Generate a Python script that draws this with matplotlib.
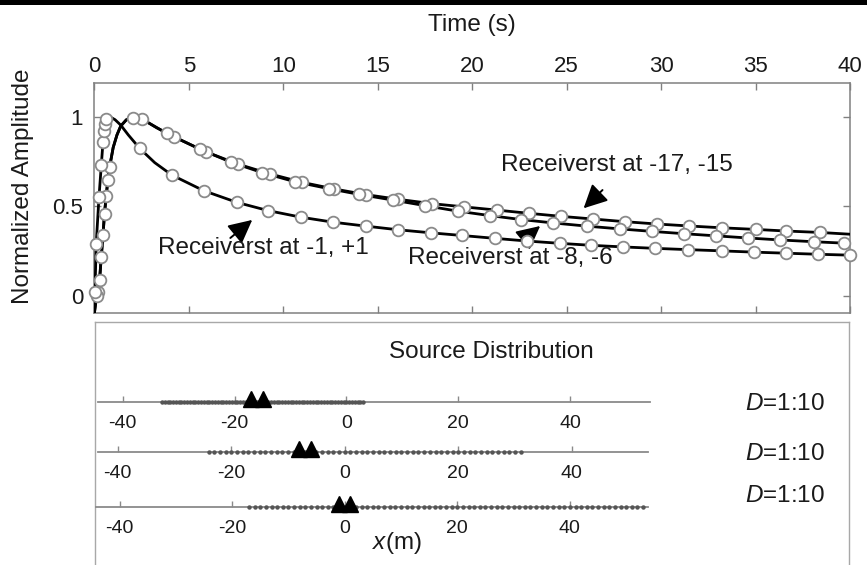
import numpy as np
import matplotlib
matplotlib.use('Agg')
import matplotlib.pyplot as plt

plt.rcParams['font.family'] = ['Liberation Sans', 'DejaVu Sans']
plt.rcParams['mathtext.fontset'] = 'custom'
plt.rcParams['mathtext.rm'] = 'Liberation Sans'
plt.rcParams['mathtext.it'] = 'Liberation Sans:italic'
plt.rcParams['axes.unicode_minus'] = False

# ---- amplitude curves (time in s, normalized amplitude) ----
# receivers at -17, -15
t_r17_line = [0.0, 0.12, 0.2, 0.28, 0.37, 0.46, 0.54, 0.63, 0.72, 0.81, 1.0, 1.2, 1.4, 1.7, 2.1, 2.52,
              3.3, 4.2, 5.9, 7.6, 9.3, 11.0, 12.7, 14.4, 16.1, 17.87, 19.55, 21.3, 23.0, 24.7, 26.4,
              28.1, 29.8, 31.5, 33.2, 35.0, 36.6, 38.4, 40.0]
a_r17_line = [-0.1, 0.0, 0.02, 0.09, 0.22, 0.34, 0.46, 0.56, 0.65, 0.72, 0.83, 0.9, 0.95, 0.985, 1.0, 0.99,
              0.94, 0.89, 0.806, 0.737, 0.682, 0.635, 0.598, 0.566, 0.54, 0.516, 0.498, 0.48, 0.462, 0.445,
              0.43, 0.415, 0.402, 0.391, 0.381, 0.372, 0.363, 0.355, 0.345]
t_r17_circ = [0.2, 0.37, 0.54, 0.72, 2.52, 4.2, 5.9, 7.6, 9.3, 11.0, 12.7, 14.4, 16.1, 17.87, 19.55, 21.3,
              23.0, 24.7, 26.4, 28.1, 29.8, 31.5, 33.2, 35.0, 36.6, 38.4]
a_r17_circ = [0.02, 0.22, 0.46, 0.65, 0.99, 0.89, 0.806, 0.737, 0.682, 0.635, 0.598, 0.566, 0.54, 0.516,
              0.498, 0.48, 0.462, 0.445, 0.43, 0.415, 0.402, 0.391, 0.381, 0.372, 0.363, 0.355]

# receivers at -8, -6
t_r8_line = [0.0, 0.12, 0.2, 0.28, 0.37, 0.46, 0.54, 0.63, 0.72, 0.81, 1.0, 1.2, 1.4, 1.7, 2.06, 2.5,
             3.84, 5.6, 7.25, 8.9, 10.6, 12.4, 14.0, 15.8, 17.5, 19.24, 20.95, 22.6, 24.3, 26.1, 27.8,
             29.5, 31.2, 32.9, 34.6, 36.3, 38.1, 39.7, 40.0]
a_r8_line = [-0.1, 0.0, 0.02, 0.09, 0.22, 0.34, 0.46, 0.56, 0.65, 0.72, 0.83, 0.9, 0.95, 0.985, 0.997, 0.99,
             0.909, 0.82, 0.747, 0.689, 0.639, 0.6, 0.568, 0.536, 0.505, 0.474, 0.449, 0.427, 0.408, 0.39,
             0.375, 0.361, 0.348, 0.336, 0.324, 0.313, 0.303, 0.295, 0.293]
t_r8_circ = [0.12, 0.28, 0.46, 0.63, 0.81, 2.06, 3.84, 5.6, 7.25, 8.9, 10.6, 12.4, 14.0, 15.8, 17.5, 19.24,
             20.95, 22.6, 24.3, 26.1, 27.8, 29.5, 31.2, 32.9, 34.6, 36.3, 38.1, 39.7]
a_r8_circ = [0.0, 0.09, 0.34, 0.56, 0.72, 0.997, 0.909, 0.82, 0.747, 0.689, 0.639, 0.6, 0.568, 0.536, 0.505,
             0.474, 0.449, 0.427, 0.408, 0.39, 0.375, 0.361, 0.348, 0.336, 0.324, 0.313, 0.303, 0.295]

# receivers at -1, +1
t_r1_line = [0.0, 0.03, 0.1, 0.25, 0.37, 0.46, 0.54, 0.63, 0.85, 1.1, 1.4, 1.8, 2.4, 3.2, 4.1, 5.8, 7.55,
             9.2, 10.95, 12.66, 14.4, 16.07, 17.8, 19.45, 21.2, 22.9, 24.66, 26.3, 28.0, 29.7, 31.4, 33.2,
             34.9, 36.6, 38.3, 40.0]
a_r1_line = [-0.1, 0.0, 0.29, 0.555, 0.73, 0.86, 0.94, 0.98, 1.0, 0.985, 0.955, 0.9, 0.825, 0.745, 0.676,
             0.588, 0.523, 0.477, 0.44, 0.412, 0.39, 0.37, 0.353, 0.338, 0.322, 0.307, 0.294, 0.283, 0.274,
             0.266, 0.259, 0.252, 0.245, 0.239, 0.233, 0.228]
t_r1_circ = [0.04, 0.1, 0.25, 0.37, 0.46, 0.5, 0.54, 0.63, 2.4, 4.1, 5.8, 7.55, 9.2, 10.95, 12.66, 14.4,
             16.07, 17.8, 19.45, 21.2, 22.9, 24.66, 26.3, 28.0, 29.7, 31.4, 33.2, 34.9, 36.6, 38.3, 40.0]
a_r1_circ = [0.02, 0.29, 0.555, 0.73, 0.86, 0.92, 0.96, 0.99, 0.825, 0.676, 0.588, 0.523, 0.477, 0.44,
             0.412, 0.39, 0.37, 0.353, 0.338, 0.322, 0.307, 0.294, 0.283, 0.274, 0.266, 0.259, 0.252, 0.245,
             0.239, 0.233, 0.228]

time_ticks = [0, 5, 10, 15, 20, 25, 30, 35, 40]
amp_ticks = [0, 0.5, 1]
amp_labels = ['0', '0.5', '1']

# ---- source distribution (x in m) ----
src_start = [-33, -24, -17]
src_stop = [3, 31, 53]
src_step = [0.5, 1.0, 1.0]
receivers = [[-17, -15], [-8, -6], [-1, 1]]
dist_labels = ['$D$=1:10', '$D$=1:10', '$D$=1:10']
x_ticks = [-40, -20, 0, 20, 40]

W, H = 867, 565
gray = '#808080'
txt = '#1a1a1a'


def box(left, top, right, bottom):
    return [left / W, 1 - bottom / H, (right - left) / W, (bottom - top) / H]


fig = plt.figure(figsize=(W / 100, H / 100), dpi=100)
fig.add_artist(plt.Rectangle((0, 1 - 4.5 / H), 1, 4.5 / H, transform=fig.transFigure,
                             color='k', lw=0))

# ---- top panel ----
ax = fig.add_axes(box(94.3, 82.7, 850, 313.3))
mk = dict(marker='o', ms=8.4, mfc='white', mec='#8a8a8a', mew=1.3, ls='none', zorder=4, clip_on=False)
for tl, al, tc, ac in [(t_r17_line, a_r17_line, t_r17_circ, a_r17_circ),
                       (t_r8_line, a_r8_line, t_r8_circ, a_r8_circ),
                       (t_r1_line, a_r1_line, t_r1_circ, a_r1_circ)]:
    ax.plot(tl, al, color='k', lw=2.0, zorder=3)
    ax.plot(tc, ac, **mk)

ax.set_xlim(0, 40)
ax.set_ylim(-0.097, 1.192)
ax.set_xticks(time_ticks)
ax.set_yticks(amp_ticks)
ax.set_yticklabels(amp_labels)
ax.tick_params(axis='x', top=True, bottom=True, labeltop=True, labelbottom=False, direction='in',
               length=5, width=1, color=gray, labelsize=16, labelcolor=txt, pad=4)
ax.tick_params(axis='y', left=True, right=True, direction='in', length=5, width=1, color=gray,
               labelsize=16, labelcolor=txt, pad=8)
for s in ax.spines.values():
    s.set_color(gray)
    s.set_linewidth(1.1)
ax.xaxis.set_label_position('top')
ax.set_xlabel('Time (s)', fontsize=17.5, color=txt)
ax.xaxis.set_label_coords(0.5, 1.25)
ax.xaxis.label.set_va('center')
ax.set_ylabel('Normalized Amplitude', fontsize=17.5, color=txt)
ax.yaxis.set_label_coords(-0.094, 0.55)
ax.yaxis.label.set_va('center')

arrow = dict(arrowstyle='-|>,head_length=0.6,head_width=0.3', color='k', lw=1.4,
             shrinkA=0, shrinkB=0, mutation_scale=24)
ax.annotate('', xy=(8.36, 0.425), xytext=(7.2, 0.324), arrowprops=arrow)
ax.text(8.94, 0.268, 'Receiverst at -1, +1', fontsize=17.5, color=txt, ha='center', va='center')
ax.annotate('', xy=(25.9, 0.49), xytext=(26.9, 0.592), arrowprops=arrow)
ax.text(27.66, 0.732, 'Receiverst at -17, -15', fontsize=17.5, color=txt, ha='center', va='center')
ax.annotate('', xy=(23.6, 0.391), xytext=(22.7, 0.313), arrowprops=arrow)
ax.text(22.0, 0.212, 'Receiverst at -8, -6', fontsize=17.5, color=txt, ha='center', va='center')

# ---- bottom panel frame ----
fr = fig.add_axes(box(95, 322, 849, 575))
fr.set_xticks([])
fr.set_yticks([])
fr.patch.set_alpha(0)
for k, s in fr.spines.items():
    s.set_color('#a8a8a8')
    s.set_linewidth(1.0)
fr.spines['bottom'].set_visible(False)

fig.text(491 / W, 1 - 352 / H, 'Source Distribution', fontsize=17.5, color=txt, ha='center', va='center')
fig.text(397 / W, 1 - 543 / H, '$x$(m)', fontsize=17.5, color=txt, ha='center', va='center')

row_y = [401.7, 451.7, 506.7]
row_zero = [346.4, 344.7, 344.7]
row_scale = [5.59, 5.675, 5.63]
row_left = [98, 98, 96]
row_right = [650, 648, 648]
lab_y = [403.5, 454, 496.5]

for i in range(3):
    r = fig.add_axes(box(row_left[i], row_y[i] - 20, row_right[i], row_y[i]))
    r.patch.set_alpha(0)
    r.set_xlim((row_left[i] - row_zero[i]) / row_scale[i], (row_right[i] - row_zero[i]) / row_scale[i])
    r.set_ylim(0, 1)
    for k in ['top', 'left', 'right']:
        r.spines[k].set_visible(False)
    r.spines['bottom'].set_color('#8a8a8a')
    r.spines['bottom'].set_linewidth(1.3)
    r.set_yticks([])
    r.set_xticks(x_ticks)
    r.tick_params(axis='x', direction='in', length=4, width=1, color='#8a8a8a', labelsize=14,
                  labelcolor=txt, pad=9.5)
    src = np.arange(src_start[i], src_stop[i] + src_step[i] / 2, src_step[i])
    r.plot(src, np.zeros_like(src), 'o', ms=3.2, color='#555555', mec='none', clip_on=False, zorder=3)
    r.plot(receivers[i], [0.12, 0.12], '^', ms=12, color='k', clip_on=False, zorder=4)
    fig.text(745 / W, 1 - lab_y[i] / H, dist_labels[i], fontsize=17.5, color=txt, ha='left', va='center')

fig.savefig('out.png', dpi=100)
